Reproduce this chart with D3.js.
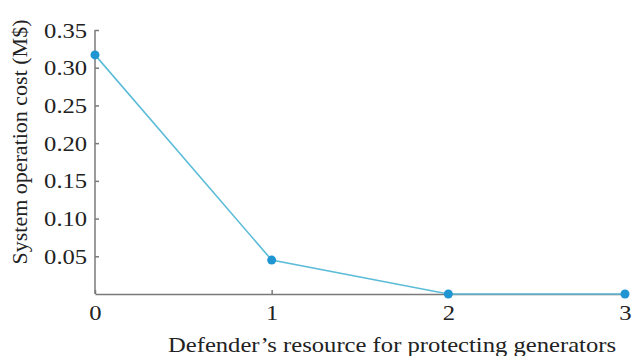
<!DOCTYPE html>
<html>
<head>
<meta charset="utf-8">
<script src="https://cdn.jsdelivr.net/npm/d3@7"></script>
<style>
  html, body { margin: 0; padding: 0; background: #fff; }
  svg { display: block; }
  text { font-family: "Liberation Serif", "Times New Roman", serif; fill: #222; }
</style>
</head>
<body>
<svg id="chart" width="632" height="356"></svg>
<script>
// Defender's resource units and resulting system operation cost (M$)
const resources = [0, 1, 2, 3];
const costs = [0.317, 0.045, 0, 0];
const yTicks = [0.05, 0.10, 0.15, 0.20, 0.25, 0.30, 0.35];
const xTicks = [0, 1, 2, 3];

const svg = d3.select("#chart");
const margin = { left: 95, right: 7, top: 30, bottom: 62 };
const W = 632, H = 356;
const fontSize = 22;
const widen = 1.12; // slightly wide lettering for horizontal text

const x = d3.scaleLinear().domain([0, 3]).range([margin.left, W - margin.right]);
const y = d3.scaleLinear().domain([0, 0.35]).range([H - margin.bottom, margin.top]);

const axisColor = "#7a7a7a";

// y axis with inward ticks
const gy = svg.append("g")
  .attr("transform", `translate(${x(0)},0)`)
  .call(d3.axisLeft(y).tickValues(yTicks).tickSize(-4).tickPadding(7)
    .tickFormat(d3.format(".2f")).tickSizeOuter(0));
gy.select(".domain").attr("stroke", axisColor).attr("stroke-width", 1.5)
  .attr("d", `M0,${y(0)}V${y(0.35)}`);
gy.selectAll(".tick line").attr("stroke", axisColor).attr("stroke-width", 1.5);
gy.selectAll(".tick text").attr("font-size", fontSize).style("fill", "#222")
  .attr("transform", `scale(${widen},1)`);

// x axis with inward ticks
const gx = svg.append("g")
  .attr("transform", `translate(0,${y(0)})`)
  .call(d3.axisBottom(x).tickValues(xTicks).tickSize(-4).tickPadding(10)
    .tickFormat(d3.format("d")).tickSizeOuter(0));
gx.select(".domain").attr("stroke", axisColor).attr("stroke-width", 1.5);
gx.selectAll(".tick line").attr("stroke", axisColor).attr("stroke-width", 1.5);
gx.selectAll(".tick text").attr("font-size", fontSize).style("fill", "#222")
  .attr("transform", `scale(${widen},1)`);

// cost line and markers
const pts = resources.map((r, i) => [r, costs[i]]);
svg.append("path")
  .datum(pts)
  .attr("fill", "none")
  .attr("stroke", "#5cbcd8")
  .attr("stroke-width", 1.6)
  .attr("d", d3.line().x(d => x(d[0])).y(d => y(d[1])));

svg.selectAll("circle.pt")
  .data(pts)
  .join("circle")
  .attr("class", "pt")
  .attr("cx", d => x(d[0]))
  .attr("cy", d => y(d[1]))
  .attr("r", 4.5)
  .attr("fill", "#1f95d2");

// axis titles
svg.append("text")
  .attr("transform", `translate(392,352) scale(${widen},1)`)
  .attr("text-anchor", "middle")
  .attr("font-size", fontSize)
  .text("Defender\u2019s resource for protecting generators");

svg.append("text")
  .attr("transform", `translate(27,142) rotate(-90)`)
  .attr("text-anchor", "middle")
  .attr("font-size", fontSize)
  .text("System operation cost (M$)");
</script>
</body>
</html>
